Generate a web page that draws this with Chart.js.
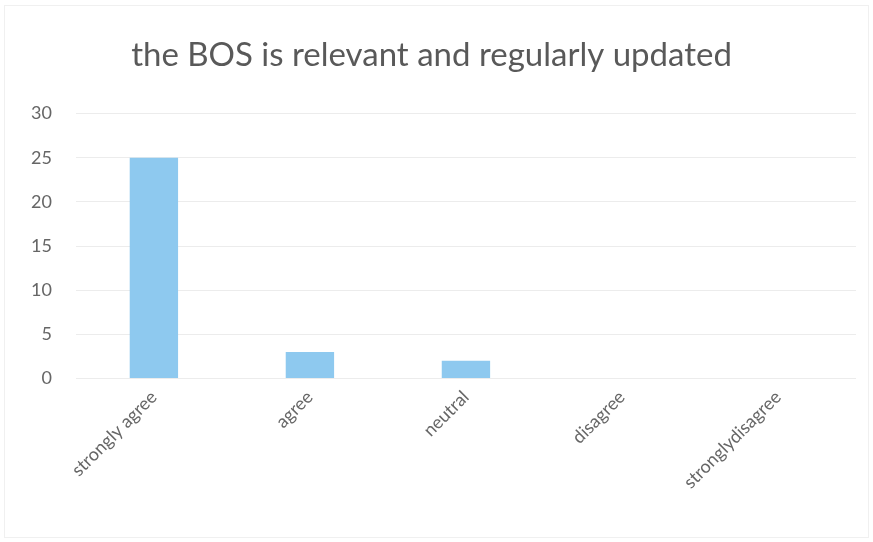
<!DOCTYPE html>
<html>
<head>
<meta charset="utf-8">
<script src="https://cdn.jsdelivr.net/npm/chart.js@4.4.1/dist/chart.umd.min.js"></script>
<style>
  html, body { margin: 0; padding: 0; background: #fff; }
  #wrap { position: relative; width: 873px; height: 542px; }
  #frame { position: absolute; left: 4px; top: 5px; right: 4px; bottom: 4px; border: 1px solid #f0f0f0; pointer-events: none; }
</style>
</head>
<body>
<div id="wrap"><canvas id="bosChart"></canvas><div id="frame"></div></div>
<script>
const categories = ["strongly agree", "agree", "neutral", "disagree", "stronglydisagree"];
const responses = [25, 3, 2, 0, 0];
const yTicks = [0, 5, 10, 15, 20, 25, 30];

const fontFamily = 'Lato, "Open Sans", sans-serif';

const ctx = document.getElementById('bosChart').getContext('2d');
const chart = new Chart(ctx, {
    type: 'bar',
    data: {
        labels: categories,
        datasets: [{
            label: 'responses',
            data: responses,
            backgroundColor: '#8ec9ef',
            borderWidth: 0,
            categoryPercentage: 1,
            barPercentage: 0.31
        }]
    },
    options: {
        responsive: true,
        maintainAspectRatio: false,
        animation: false,
        layout: {
            padding: { left: 7, right: 17, top: 0, bottom: 49 }
        },
        plugins: {
            legend: { display: false },
            tooltip: { enabled: false },
            title: {
                display: true,
                text: 'the BOS is relevant and regularly updated',
                color: '#595959',
                font: { family: fontFamily, size: 33, weight: 'normal' },
                padding: { top: 36, bottom: 38 }
            }
        },
        scales: {
            x: {
                grid: { display: false },
                border: { display: false },
                ticks: {
                    color: '#666',
                    font: { family: fontFamily, size: 18 },
                    minRotation: 45,
                    maxRotation: 45,
                    padding: 0
                }
            },
            y: {
                min: 0,
                max: 30,
                afterBuildTicks: (axis) => {
                    axis.ticks = yTicks.map(v => ({ value: v }));
                },
                grid: { color: '#ececec', drawTicks: false },
                border: { display: false },
                ticks: {
                    color: '#666',
                    font: { family: fontFamily, size: 18 },
                    padding: 24
                }
            }
        }
    }
});
</script>
</body>
</html>
